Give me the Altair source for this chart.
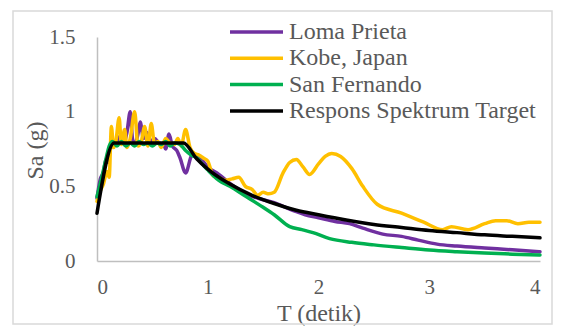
import altair as alt
import pandas as pd

series_names = ["Loma Prieta", "Kobe, Japan", "San Fernando", "Respons Spektrum Target"]
series_colors = ["#7030A0", "#FFC000", "#00B050", "#000000"]

lp_T = [0, 0.03, 0.06, 0.08, 0.1, 0.12, 0.15, 0.18, 0.21, 0.24, 0.27, 0.3, 0.32, 0.34, 0.37, 0.39,
        0.42, 0.45, 0.48, 0.52, 0.56, 0.6, 0.62, 0.65, 0.68, 0.72, 0.75, 0.8, 0.86, 0.93, 1.0, 1.1,
        1.2, 1.3, 1.38, 1.5, 1.6, 1.7, 1.8, 1.88, 2.0, 2.15, 2.28, 2.4, 2.58, 2.75, 2.9, 3.07, 3.25,
        3.5, 3.75, 4.0]
lp_Sa = [0.42, 0.55, 0.6, 0.68, 0.66, 0.75, 0.8, 0.78, 0.84, 0.79, 0.86, 1.0, 0.82, 0.78, 0.85, 0.93,
         0.82, 0.86, 0.8, 0.82, 0.79, 0.78, 0.75, 0.85, 0.77, 0.74, 0.69, 0.59, 0.71, 0.69, 0.63, 0.58,
         0.52, 0.47, 0.44, 0.41, 0.39, 0.36, 0.33, 0.31, 0.29, 0.265, 0.25, 0.22, 0.18, 0.165, 0.14,
         0.113, 0.1, 0.087, 0.075, 0.062]

kb_T = [0, 0.03, 0.06, 0.09, 0.11, 0.13, 0.15, 0.17, 0.2, 0.22, 0.25, 0.27, 0.3, 0.34, 0.37, 0.4,
        0.43, 0.46, 0.49, 0.52, 0.55, 0.58, 0.62, 0.66, 0.7, 0.73, 0.76, 0.8, 0.84, 0.88, 0.92, 0.96,
        1.0, 1.05, 1.1, 1.15, 1.22, 1.28, 1.34, 1.4, 1.45, 1.5, 1.55, 1.6, 1.68, 1.74, 1.8, 1.86, 1.92,
        2.0, 2.06, 2.12, 2.2, 2.3, 2.4, 2.53, 2.75, 2.95, 3.12, 3.2, 3.35, 3.5, 3.6, 3.7, 3.8, 3.9, 4.0]
kb_Sa = [0.4, 0.47, 0.52, 0.6, 0.56, 0.9, 0.76, 0.8, 0.96, 0.78, 0.88, 0.76, 0.82, 1.0, 0.77, 0.8,
         0.9, 0.77, 0.92, 0.78, 0.8, 0.76, 0.82, 0.79, 0.78, 0.82, 0.77, 0.88, 0.76, 0.72, 0.71, 0.69,
         0.67, 0.57, 0.56, 0.54, 0.55, 0.56, 0.5, 0.48, 0.44, 0.46, 0.45, 0.46, 0.59, 0.66, 0.68, 0.63,
         0.58, 0.65, 0.7, 0.72, 0.7, 0.62, 0.5, 0.38, 0.32, 0.26, 0.21, 0.23, 0.21, 0.25, 0.27, 0.27,
         0.25, 0.26, 0.26]

sf_T = [0, 0.04, 0.08, 0.11, 0.14, 0.18, 0.22, 0.26, 0.3, 0.34, 0.38, 0.42, 0.46, 0.5, 0.54, 0.58,
        0.62, 0.66, 0.7, 0.75, 0.8, 0.85, 0.9, 0.95, 1.0, 1.1, 1.2, 1.35, 1.5, 1.6, 1.74, 1.85, 1.95,
        2.1, 2.3, 2.5, 2.75, 3.0, 3.25, 3.5, 3.75, 4.0]
sf_Sa = [0.43, 0.55, 0.68, 0.77, 0.8, 0.77, 0.8, 0.77, 0.79, 0.77, 0.8, 0.78, 0.79, 0.77, 0.79, 0.78,
         0.8, 0.77, 0.79, 0.78, 0.74, 0.71, 0.69, 0.65, 0.61, 0.54, 0.5, 0.43, 0.36, 0.31, 0.23, 0.21,
         0.19, 0.15, 0.125, 0.108, 0.09, 0.073, 0.062, 0.053, 0.046, 0.04]

tg_T = [0, 0.155, 0.78, 0.9, 1.0, 1.2, 1.4, 1.6, 1.8, 2.0, 2.25, 2.5, 2.75, 3.0, 3.25, 3.5, 3.75, 4.0]
tg_Sa = [0.32, 0.79, 0.79, 0.685, 0.615, 0.515, 0.44, 0.385, 0.34, 0.31, 0.275, 0.245, 0.225, 0.205,
         0.19, 0.175, 0.165, 0.155]

x_ticks = [0, 1, 2, 3, 4]
y_ticks = [0, 0.5, 1, 1.5]

FONT = "Liberation Serif, Times New Roman, DejaVu Serif, serif"
TXT = "#595959"

all_T = [lp_T, kb_T, sf_T, tg_T]
all_Sa = [lp_Sa, kb_Sa, sf_Sa, tg_Sa]

color_scale = alt.Scale(domain=series_names, range=series_colors)

layers = []
for name, ts, sas in zip(series_names, all_T, all_Sa):
    df = pd.DataFrame({"T": ts, "Sa": sas, "series": name})
    layers.append(
        alt.Chart(df).mark_line(strokeWidth=3.5, interpolate="monotone", strokeCap="round", strokeJoin="round").encode(
            x=alt.X("T:Q", scale=alt.Scale(domain=[0, 4], nice=False),
                    axis=alt.Axis(values=x_ticks, title="T (detik)", format="~g",
                                  labelPadding=15, titleY=52, titleBaseline="middle")),
            y=alt.Y("Sa:Q", scale=alt.Scale(domain=[0, 1.5], nice=False),
                    axis=alt.Axis(values=y_ticks, title="Sa (g)", format="~g",
                                  labelPadding=22, titleX=-62, titleY=113,
                                  titleAngle=-90, titleAlign="center", titleBaseline="middle")),
            color=alt.Color("series:N", scale=color_scale, legend=None),
        )
    )

leg_df = pd.DataFrame({"series": series_names})
legend_base = alt.Chart(leg_df).transform_window(
    idx="row_number()"
).transform_calculate(
    ly="(datum.idx - 1) * 26.3 - 5"
)
legend_lines = legend_base.mark_rule(strokeWidth=3.5).encode(
    x=alt.value(133), x2=alt.value(186),
    y=alt.Y("ly:Q", scale=None),
    color=alt.Color("series:N", scale=color_scale, legend=None),
)
legend_text = legend_base.mark_text(
    align="left", baseline="middle", font=FONT, fontSize=24, color=TXT
).encode(
    x=alt.value(192),
    y=alt.Y("ly:Q", scale=None),
    text="series:N",
)

border = alt.Chart(alt.Data(values=[{"a": 1}])).mark_rect(
    fill=None, fillOpacity=0, stroke="#D9D9D9", strokeWidth=1.5
).encode(
    x=alt.value(-84), x2=alt.value(455), y=alt.value(-26), y2=alt.value(287)
)

chart = alt.layer(border, *layers, legend_lines, legend_text).properties(
    width=443, height=224,
    autosize=alt.AutoSizeParams(type="none"),
    padding={"left": 89, "top": 29, "right": 14, "bottom": 65},
).configure_view(stroke=None).configure_axis(
    domainColor="#BFBFBF", domainWidth=1.5, ticks=False, grid=False,
    labelFont=FONT, labelFontSize=21, labelColor=TXT,
    titleFont=FONT, titleFontSize=24, titleColor=TXT, titleFontWeight="normal",
)

chart.save("out.html", embed_options={"renderer": "svg", "actions": False})
